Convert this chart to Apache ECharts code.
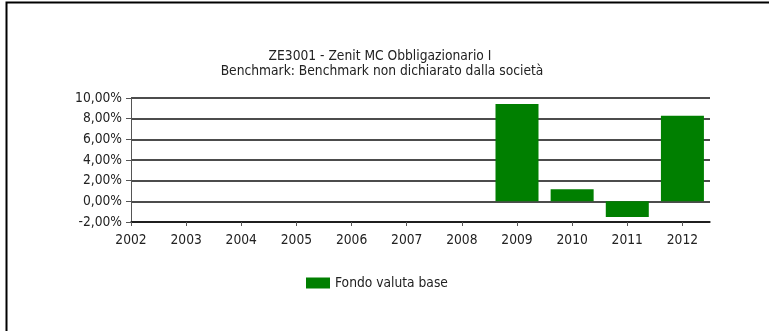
<!DOCTYPE html>
<html>
<head>
<meta charset="utf-8">
<script src="https://cdn.jsdelivr.net/npm/echarts@6/dist/echarts.min.js"></script>
<style>
html,body{margin:0;padding:0;background:#fff;}
#c{width:769px;height:331px;}
</style>
</head>
<body>
<div id="c"></div>
<script>
var titleText = "ZE3001 - Zenit MC Obbligazionario I";
var subtitleText = "Benchmark: Benchmark non dichiarato dalla società";
var seriesName = "Fondo valuta base";
var years = [2002, 2003, 2004, 2005, 2006, 2007, 2008, 2009, 2010, 2011, 2012];
var values = [null, null, null, null, null, null, null, 9.42, 1.16, -1.51, 8.29];
var yTicks = [-2, 0, 2, 4, 6, 8, 10];

var chart = echarts.init(document.getElementById('c'), null, {renderer: 'canvas'});
var font = '"DejaVu Sans Condensed", sans-serif';
var fs = 13.7;
var data = years.map(function (y, i) { return [y, values[i]]; });

chart.setOption({
  backgroundColor: '#fff',
  animation: false,
  title: [{
    text: titleText,
    left: 375, top: 44, textAlign: 'center',
    textStyle: {fontFamily: font, fontSize: fs, fontWeight: 'normal', color: '#222'}
  }, {
    text: subtitleText,
    left: 377, top: 59.5, textAlign: 'center',
    textStyle: {fontFamily: font, fontSize: fs, fontWeight: 'normal', color: '#222'}
  }],
  legend: {
    data: [seriesName],
    left: 301, top: 271,
    itemWidth: 24, itemHeight: 11, itemGap: 6,
    textStyle: {fontFamily: font, fontSize: fs, color: '#222'},
    icon: 'rect'
  },
  graphic: [{
    type: 'polyline',
    shape: {points: [[6.5, 400], [6.5, 2.5], [769, 2.5]]},
    style: {stroke: '#000', lineWidth: 2, fill: null},
    silent: true
  }],
  grid: {left: 131, top: 98, width: 579, height: 124},
  xAxis: {
    type: 'value',
    min: 2002, max: 2012.5, interval: 1,
    splitLine: {show: false},
    axisLine: {show: true, onZero: false, lineStyle: {color: '#111', width: 1.5}},
    axisTick: {show: true, length: 4, lineStyle: {color: '#555'}, customValues: years},
    axisLabel: {
      customValues: years,
      margin: 11,
      fontFamily: font, fontSize: fs, color: '#222',
      formatter: function (v) { return String(v); }
    }
  },
  yAxis: {
    type: 'value',
    min: -2, max: 10, interval: 2,
    axisLine: {show: true, lineStyle: {color: '#555', width: 1}},
    axisTick: {show: true, length: 5, lineStyle: {color: '#555'}},
    splitLine: {show: true, lineStyle: {color: '#111', width: 1.5}},
    axisLabel: {
      margin: 9,
      fontFamily: font, fontSize: fs, color: '#222',
      formatter: function (v) { return v.toFixed(2).replace('.', ',') + '%'; }
    }
  },
  series: [{
    name: seriesName,
    type: 'bar',
    data: data,
    barWidth: 43,
    itemStyle: {color: '#007f00'}
  }]
});
</script>
</body>
</html>
